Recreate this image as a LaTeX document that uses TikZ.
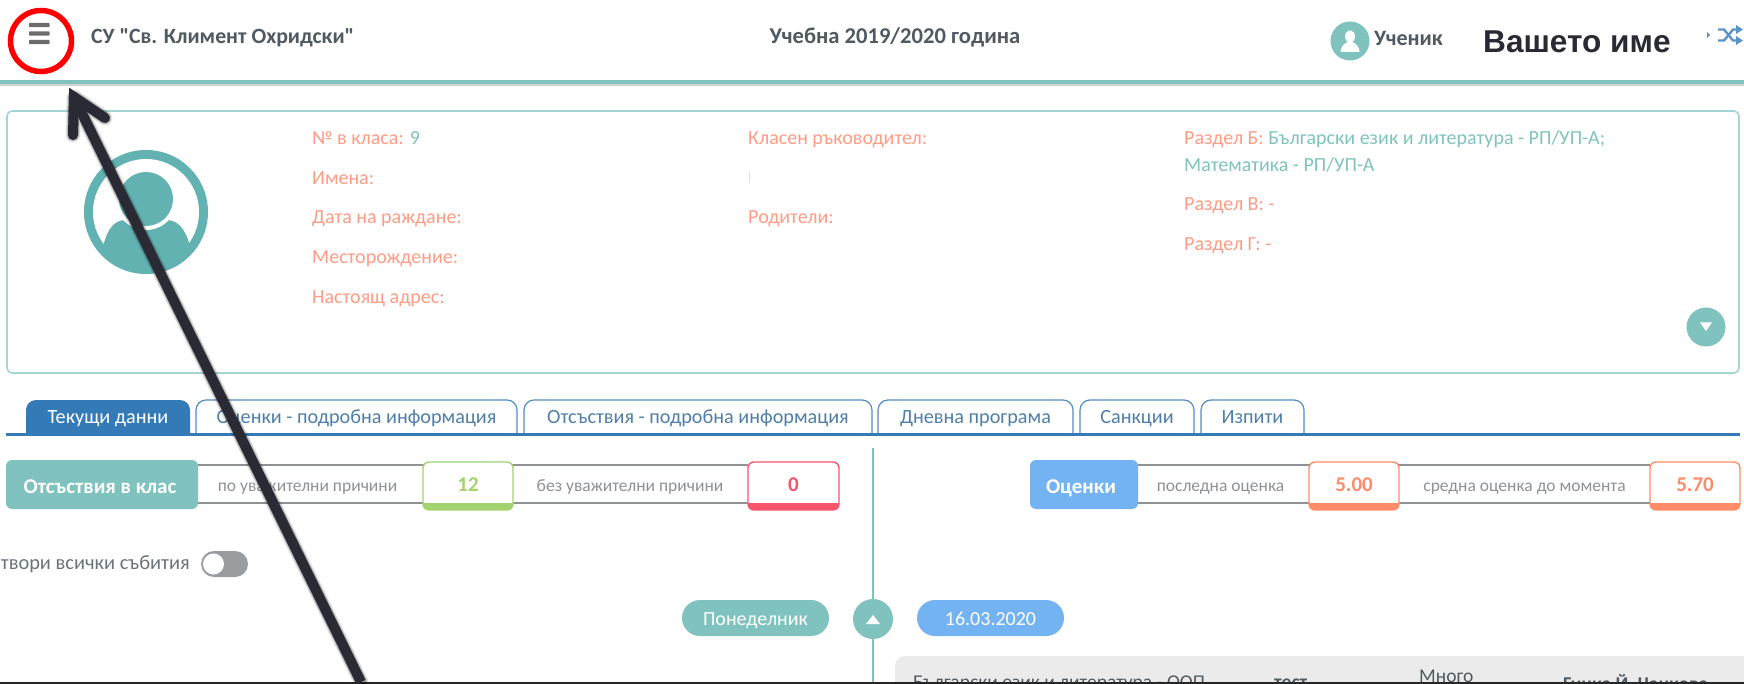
\documentclass[tikz,border=0pt]{standalone}
\usepackage{fontspec}
\setmainfont{Carlito}
\newfontfamily\uifont{Carlito}
\newfontfamily\arialbold{Liberation Sans}
\usetikzlibrary{arrows.meta}
\definecolor{teal}{HTML}{80C3BE}
\definecolor{avatar}{HTML}{62B2B2}
\definecolor{frameteal}{HTML}{A5D5D3}
\definecolor{salmon}{HTML}{FF9C85}
\definecolor{tabblue}{HTML}{337AB7}
\definecolor{tabtext}{HTML}{4F7FA8}
\definecolor{skyblue}{HTML}{74B3F2}
\definecolor{okgreen}{HTML}{A2D36F}
\definecolor{badred}{HTML}{F5566C}
\definecolor{orangeb}{HTML}{FF8C69}
\definecolor{graytxt}{HTML}{8F9295}
\definecolor{darktxt}{HTML}{4F5A62}
\definecolor{inkdark}{HTML}{2A2A35}
\definecolor{panelgray}{HTML}{EBEBEB}
\tikzset{
  lab/.style={anchor=base west,inner sep=0pt,font=\fontsize{20}{20}\selectfont,text=salmon},
  val/.style={anchor=base west,inner sep=0pt,font=\fontsize{20}{20}\selectfont,text=teal},
  tabline/.style={draw=tabblue!85!white,line width=1.2pt,rounded corners=10pt},
  tabtxt/.style={anchor=base,inner sep=0pt,font=\fontsize{20.2}{20}\selectfont,text=tabtext},
  small/.style={anchor=base,inner sep=0pt,font=\fontsize{17.5}{18}\selectfont,text=graytxt},
  head/.style={anchor=base,inner sep=0pt,font=\bfseries\fontsize{21}{21}\selectfont,text=white},
  num/.style={anchor=base,inner sep=0pt,font=\bfseries\fontsize{21}{21}\selectfont},
  pilltxt/.style={inner sep=0pt,font=\fontsize{20}{20}\selectfont,text=white,text height=16pt,text depth=2pt},
  hdr/.style={inner sep=0pt,font=\bfseries\fontsize{21.8}{21}\selectfont,text=darktxt},
  cell/.style={anchor=base west,inner sep=0pt,font=\fontsize{19.5}{19}\selectfont,text=darktxt},
  bar/.style={draw=graytxt,line width=2.6pt},
}
\newcommand{\statbox}[6]{% name x1 x2 colour number-colour text
  \fill[white,rounded corners=6pt] (#2,462) rectangle (#3,510);
  \begin{scope}
    \clip[rounded corners=6pt] (#2,462) rectangle (#3,510);
    \fill[#4] (#2,503) rectangle (#3,510);
  \end{scope}
  \draw[#4,line width=1.4pt,rounded corners=6pt] (#2,462) rectangle (#3,510);
  \node[num,text=#5] (#1) at ({(#2+#3)/2},491) {#6};
}
\begin{document}
\begin{tikzpicture}[x=1pt,y=-1pt]
\path[use as bounding box,fill=white] (0,0) rectangle (1744,684);
\begin{scope}
\clip (0,0) rectangle (1744,682);
% header
\fill[gray!35] (0,83) rectangle (1744,86);
\fill[teal] (0,80.5) rectangle (1744,84.5);
\foreach \yy in {25,33.5,42} \fill[gray!85!black,rounded corners=.8pt] (29,\yy-2.2) rectangle (49.5,\yy+2.2);
\node[hdr,anchor=base west] (school) at (91,44) {\uifont\bfseries СУ "Св. Климент Охридски"};
\node[hdr,anchor=base,font=\bfseries\fontsize{22.6}{22}\selectfont] (year) at (895,44) {Учебна 2019/2020 година};
\node[circle,fill=teal,minimum size=39pt,inner sep=0pt] (usr) at (1350,41) {};
\fill[white] (1350,36.5) ellipse (5 and 6.2);
\fill[white] (1340.5,52) .. controls (1341,45) and (1345,44) .. (1347,42) -- (1353,42) .. controls (1355,44) and (1359,45) .. (1359.5,52) -- cycle;
\node[hdr,anchor=base west,font=\bfseries\fontsize{22}{22}\selectfont] (role) at (1374,46) {Ученик};
\node[anchor=base west,inner sep=0pt,font=\arialbold\bfseries\fontsize{31.6}{31}\selectfont,text=inkdark] (name) at (1483,53) {Вашето име};
\fill[tabblue!80!white] (1710,35) -- (1707,32) -- (1707,38) -- cycle;
\draw[tabblue!80!white,line width=2.4pt] (1718,29.5) -- (1724,29.5) -- (1733,40.5) -- (1738,40.5);
\draw[tabblue!80!white,line width=2.4pt] (1718,40.5) -- (1724,40.5) -- (1733,29.5) -- (1738,29.5);
\fill[tabblue!80!white] (1736,25) -- (1743,29.5) -- (1736,34) -- cycle;
\fill[tabblue!80!white] (1736,36) -- (1743,40.5) -- (1736,45) -- cycle;
% student panel
\draw[frameteal,line width=1.6pt,rounded corners=5pt] (7,111) rectangle (1739,373);
\fill[avatar] (146,212) circle (62);
\fill[white] (146,212) circle (53);
\begin{scope}
\clip (146,212) circle (53.5);
\fill[avatar] (104,243) .. controls (108,229) and (114,221) .. (124,220) -- (168,220) .. controls (178,221) and (185,229) .. (189,243) -- (200,280) -- (90,280) -- cycle;
\end{scope}
\fill[white] (146,199) circle (31);
\fill[avatar] (146,199) circle (27);
\node[lab] (n1) at (312,145) {№ в класа: \textcolor{teal}{9}};
\node[lab] (n2) at (312,185) {Имена:};
\node[lab] (n3) at (312,224) {Дата на раждане:};
\node[lab] (n4) at (312,264) {Месторождение:};
\node[lab] (n5) at (312,304) {Настоящ адрес:};
\node[lab] (m1) at (748,145) {Класен ръководител:};
\fill[gray!25] (748.5,171) rectangle (749.5,183);
\node[lab] (m2) at (748,224) {Родители:};
\node[lab] (s1) at (1184,145) {Раздел Б: \textcolor{teal}{Български език и литература - РП/УП-А;}};
\node[val] (s1b) at (1184,172) {Математика - РП/УП-А};
\node[lab] (s2) at (1184,211) {Раздел В: -};
\node[lab] (s3) at (1184,250.5) {Раздел Г: -};
\node[circle,fill=teal,minimum size=39pt,inner sep=0pt] (down) at (1706,327) {};
\fill[white] (1700,322.5) -- (1712,322.5) -- (1706,331) -- cycle;
% tabs
\begin{scope}
\clip (0,380) rectangle (1744,434);
\fill[tabblue,rounded corners=10pt] (26,450) rectangle (190,400);
\end{scope}
\node[tabtxt,text=white] (t1) at (108,423) {Текущи данни};
\draw[tabline] (196,434) -- (196,400) -- (517,400) -- (517,434);
\node[tabtxt] (t2) at (356.5,423) {Оценки - подробна информация};
\draw[tabline] (524,434) -- (524,400) -- (872,400) -- (872,434);
\node[tabtxt] (t3) at (698,423) {Отсъствия - подробна информация};
\draw[tabline] (878,434) -- (878,400) -- (1073,400) -- (1073,434);
\node[tabtxt] (t4) at (975.5,423) {Дневна програма};
\draw[tabline] (1080,434) -- (1080,400) -- (1194,400) -- (1194,434);
\node[tabtxt] (t5) at (1137,423) {Санкции};
\draw[tabline] (1201,434) -- (1201,400) -- (1304,400) -- (1304,434);
\node[tabtxt] (t6) at (1252.5,423) {Изпити};
\fill[tabblue] (6,432.5) rectangle (1740,435.5);
% divider
\draw[teal,line width=1.2pt] (873,448) -- (873,682);
% left stats
\draw[bar] (198,465) -- (748,465);
\draw[bar] (198,503) -- (748,503);
\fill[teal,rounded corners=6pt] (6,460) rectangle (198,509);
\node[head] (abs) at (100,493) {Отсъствия в клас};
\node[small] (a1) at (307.5,491) {по уважителни причини};
\statbox{a12}{423}{513}{okgreen}{okgreen}{12}
\node[small] (a2) at (630,491) {без уважителни причини};
\statbox{a0}{748}{839}{badred}{badred}{0}
% right stats
\draw[bar] (1138,465) -- (1650,465);
\draw[bar] (1138,503) -- (1650,503);
\fill[skyblue,rounded corners=6pt] (1030,460) rectangle (1138,509);
\node[head] (gr) at (1081,493) {Оценки};
\node[small] (g1) at (1220.5,491) {последна оценка};
\statbox{g5}{1309}{1399}{orangeb}{orangeb}{5.00}
\node[small] (g2) at (1524.5,491) {средна оценка до момента};
\statbox{g57}{1650}{1740}{orangeb}{orangeb}{5.70}
% toggle
\node[anchor=base east,inner sep=0pt,font=\fontsize{20.4}{20}\selectfont,text=darktxt!85!white] (ev) at (190,569) {Отвори всички събития};
\fill[graytxt!90!white,rounded corners=13pt] (201,551) rectangle (248,577);
\fill[white] (213.5,564) circle (10.5);
% date row
\node[fill=teal,rounded corners=18pt,minimum width=147pt,minimum height=36pt,inner sep=0pt,pilltxt] (day) at (755.5,618) {Понеделник};
\node[circle,fill=teal,minimum size=40pt,inner sep=0pt] (up) at (873,619) {};
\fill[white] (866,624) -- (880,624) -- (873,615) -- cycle;
\node[fill=skyblue,rounded corners=18pt,minimum width=147pt,minimum height=36pt,inner sep=0pt,pilltxt] (date) at (990.5,618) {16.03.2020};
% table row
\fill[panelgray,rounded corners=10pt] (895,656) rectangle (1760,720);
\node[cell] (c1) at (913,688) {Български език и литература - ООП};
\node[cell,font=\bfseries\fontsize{19.5}{19}\selectfont] (c2) at (1274,688) {тест};
\node[cell] (c3) at (1419,682) {Много};
\node[cell,font=\bfseries\fontsize{19.5}{19}\selectfont] (c4) at (1563,690) {Гинка Й. Чанкова};
\end{scope}
\fill[black!85] (0,682) rectangle (1744,684);
% red ring
\node[circle,draw=red,line width=5.5pt,minimum size=61pt,inner sep=0pt] (ring) at (41,41) {};
% arrow
\coordinate (tail) at (361,682);
\coordinate (tip) at (74,97);
\coordinate (b1) at (73,135);
\coordinate (b2) at (105,118);
\begin{scope}[shift={(4,4)}]
\foreach \w/\o in {15/.08,13/.14,11/.22}
  \draw[black,opacity=\o,line width=\w pt,line cap=round,line join=round] (b1) -- (tip) -- (b2) (tip) -- (tail);
\end{scope}
\draw[inkdark,line width=10pt,line cap=round,line join=miter] (b1) -- (tip) -- (b2);
\draw[inkdark,line width=10pt] (tip) -- (tail);
\end{tikzpicture}
\end{document}
